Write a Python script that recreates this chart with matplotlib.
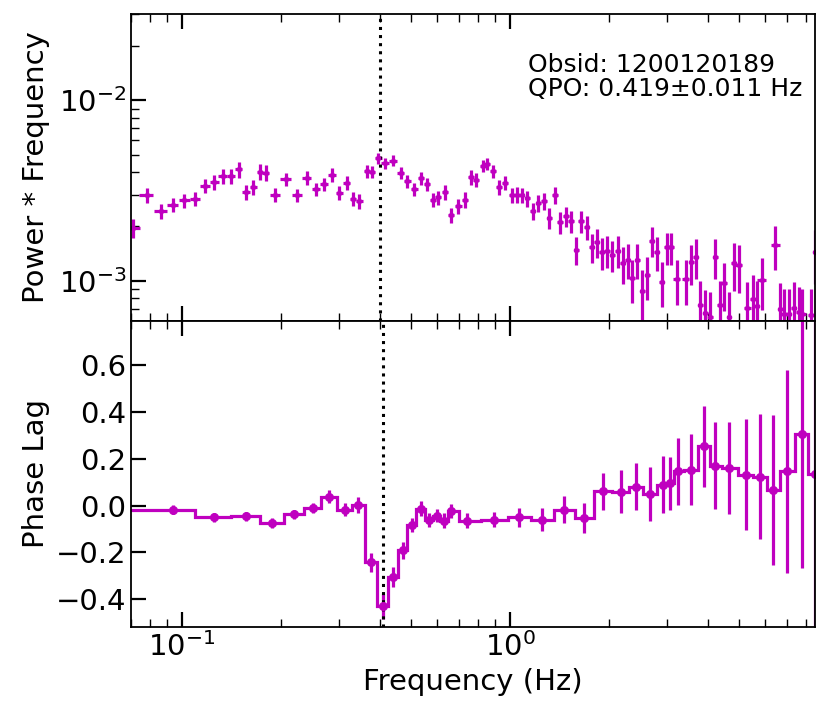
import matplotlib
matplotlib.use("Agg")
import numpy as np
import matplotlib.pyplot as plt

# power spectrum (top panel): frequency, power*frequency, relative error
FREQ = [0.0708, 0.078, 0.0861, 0.0937, 0.1016, 0.1096, 0.1178, 0.1255, 0.133, 0.141,
        0.149, 0.1567, 0.165, 0.173, 0.18, 0.192, 0.2076, 0.224, 0.240, 0.256,
        0.271, 0.286, 0.302, 0.318, 0.333, 0.347, 0.366, 0.380, 0.397, 0.416,
        0.439, 0.464, 0.486, 0.510, 0.535, 0.557, 0.581, 0.604, 0.634, 0.661,
        0.695, 0.729, 0.759, 0.788, 0.824, 0.853, 0.889, 0.928, 0.966, 1.012,
        1.048, 1.086, 1.129, 1.172, 1.22, 1.27, 1.318, 1.371, 1.42, 1.479,
        1.534, 1.589, 1.646, 1.713, 1.774, 1.838, 1.904, 1.976, 2.05, 2.125,
        2.205, 2.28, 2.36, 2.44, 2.53, 2.62, 2.70, 2.80, 2.90, 3.0,
        3.10, 3.22, 3.43, 3.56, 3.68, 3.80, 3.93, 4.07, 4.22, 4.35,
        4.50, 4.65, 4.80, 4.97, 5.29, 5.48, 5.65, 5.85, 6.43, 6.65,
        6.84, 7.06, 7.31, 7.57, 7.78, 8.27, 8.51]
PF = [1.96e-3, 2.98e-3, 2.43e-3, 2.64e-3, 2.79e-3, 2.85e-3, 3.37e-3, 3.52e-3, 3.80e-3, 3.80e-3,
      4.14e-3, 3.10e-3, 3.30e-3, 4.01e-3, 3.96e-3, 3.0e-3, 3.67e-3, 2.98e-3, 3.72e-3, 3.23e-3,
      3.44e-3, 3.88e-3, 3.07e-3, 3.48e-3, 2.84e-3, 2.76e-3, 4.05e-3, 4.01e-3, 4.80e-3, 4.50e-3,
      4.64e-3, 3.96e-3, 3.57e-3, 3.21e-3, 3.69e-3, 3.44e-3, 2.82e-3, 2.90e-3, 3.10e-3, 2.31e-3,
      2.59e-3, 2.82e-3, 3.75e-3, 3.64e-3, 4.35e-3, 4.45e-3, 4.05e-3, 3.30e-3, 3.48e-3, 2.98e-3,
      3.0e-3, 2.98e-3, 2.86e-3, 2.43e-3, 2.70e-3, 2.76e-3, 2.23e-3, 2.98e-3, 2.11e-3, 2.28e-3,
      2.14e-3, 1.49e-3, 2.14e-3, 1.98e-3, 1.53e-3, 1.64e-3, 1.44e-3, 1.47e-3, 1.39e-3, 1.47e-3,
      1.25e-3, 1.31e-3, 1.03e-3, 1.31e-3, 8.73e-4, 1.07e-3, 1.67e-3, 1.44e-3, 9.9e-4, 1.53e-3,
      1.53e-3, 1.02e-3, 1.02e-3, 1.27e-3, 1.36e-3, 7.35e-4, 6.6e-4, 6.3e-4, 1.36e-3, 7.35e-4,
      9.7e-4, 6.3e-4, 1.25e-3, 1.22e-3, 7.1e-4, 7.94e-4, 7.2e-4, 1.01e-3, 1.58e-3, 7.0e-4,
      6.5e-4, 6.5e-4, 7.1e-4, 6.7e-4, 6.5e-4, 6.47e-4, 1.44e-3]
PF_REL = [0.12, 0.09, 0.09, 0.09, 0.09, 0.09, 0.09, 0.09, 0.09, 0.10,
          0.10, 0.10, 0.10, 0.10, 0.10, 0.085, 0.085, 0.085, 0.085, 0.085,
          0.085, 0.085, 0.09, 0.09, 0.09, 0.09, 0.08, 0.08, 0.07, 0.07,
          0.07, 0.08, 0.08, 0.08, 0.08, 0.08, 0.09, 0.09, 0.09, 0.10,
          0.10, 0.10, 0.09, 0.09, 0.08, 0.08, 0.08, 0.09, 0.09, 0.10,
          0.10, 0.10, 0.10, 0.11, 0.11, 0.11, 0.13, 0.11, 0.14, 0.13,
          0.14, 0.18, 0.14, 0.15, 0.18, 0.18, 0.20, 0.20, 0.20, 0.20,
          0.23, 0.22, 0.27, 0.22, 0.32, 0.27, 0.19, 0.21, 0.28, 0.20,
          0.20, 0.28, 0.28, 0.25, 0.25, 0.35, 0.35, 0.38, 0.25, 0.35,
          0.30, 0.38, 0.30, 0.30, 0.38, 0.35, 0.38, 0.32, 0.27, 0.38,
          0.38, 0.38, 0.38, 0.38, 0.38, 0.40, 0.33]

# phase lags (bottom panel)
LAG_F = [0.094, 0.1256, 0.1567, 0.1886, 0.2195, 0.2514, 0.281, 0.314, 0.345, 0.376,
         0.409, 0.439, 0.471, 0.5016, 0.534, 0.5675, 0.5975, 0.629, 0.661, 0.738,
         0.896, 1.068, 1.255, 1.464, 1.685, 1.917, 2.175, 2.416, 2.67, 2.92,
         3.075, 3.24, 3.556, 3.905, 4.217, 4.66, 5.23, 5.78, 6.32, 6.98,
         7.75, 8.47]
LAG = [-0.018, -0.050, -0.046, -0.074, -0.038, -0.010, 0.038, -0.018, 0.004, -0.242,
       -0.431, -0.306, -0.192, -0.085, -0.014, -0.061, -0.043, -0.064, -0.024, -0.064,
       -0.061, -0.050, -0.060, -0.018, -0.053, 0.061, 0.060, 0.081, 0.050, 0.090,
       0.095, 0.146, 0.154, 0.253, 0.171, 0.161, 0.132, 0.124, 0.067, 0.146,
       0.308, 0.135]
LAG_ERR = [0.019, 0.019, 0.020, 0.020, 0.020, 0.020, 0.027, 0.027, 0.034, 0.040,
           0.053, 0.043, 0.038, 0.030, 0.032, 0.030, 0.028, 0.031, 0.030, 0.031,
           0.032, 0.041, 0.049, 0.057, 0.064, 0.080, 0.091, 0.099, 0.116, 0.123,
           0.112, 0.144, 0.150, 0.174, 0.185, 0.197, 0.238, 0.267, 0.320, 0.435,
           0.577, 0.900]
LAG_EDGE_LO, LAG_EDGE_HI = 0.06, 9.5

QPO_TOP, QPO_BOT = 0.40, 0.41
OBSID = "1200120189"
QPO_TXT = "0.419\u00b10.011 Hz"

C = "#bf00bf"

plt.rcParams.update({"font.size": 21, "axes.linewidth": 1.3})

fig, (ax1, ax2) = plt.subplots(2, 1, sharex=True, figsize=(8.3, 7.16), dpi=100)
fig.subplots_adjust(left=0.158, right=0.982, top=0.980, bottom=0.124, hspace=0)

f = np.array(FREQ)
pf = np.array(PF)
# half-widths of frequency bins from neighbour spacing
d = np.diff(f)
xerr = np.concatenate([[d[0]], (d[:-1] + d[1:]) / 2, [d[-1]]]) / 2
ax1.errorbar(f, pf, xerr=xerr, yerr=pf * np.array(PF_REL), fmt="o", ms=3,
             color=C, elinewidth=2.3, capsize=0)
ax1.axvline(QPO_TOP, color="k", ls=":", lw=2.2)
ax1.set_xscale("log"); ax1.set_yscale("log")
ax1.set_ylim(6e-4, 3e-2)
ax1.set_ylabel("Power * Frequency")
ax1.text(0.58, 0.875, f"Obsid: {OBSID}\nQPO: {QPO_TXT}", transform=ax1.transAxes,
         fontsize=18, ha="left", va="top", linespacing=1.0)

lf = np.array(LAG_F)
edges = np.concatenate([[LAG_EDGE_LO], (lf[:-1] + lf[1:]) / 2, [LAG_EDGE_HI]])
ax2.stairs(LAG, edges, color=C, lw=2.3, baseline=None)
ax2.errorbar(lf, LAG, yerr=LAG_ERR, fmt="o", ms=5.5, color=C, elinewidth=2.3, capsize=0)
ax2.axvline(QPO_BOT, color="k", ls=":", lw=2.2)
ax2.set_ylim(-0.52, 0.79)
ax2.set_yticks([-0.4, -0.2, 0.0, 0.2, 0.4, 0.6])
ax2.set_ylabel("Phase Lag")
ax2.set_xlabel("Frequency (Hz)")
ax2.set_xlim(0.07, 8.5)

for ax in (ax1, ax2):
    ax.tick_params(which="both", direction="in", top=True, right=False)
    ax.tick_params(which="major", length=11, width=1.6)
    ax.tick_params(which="minor", length=6, width=1.0)
fig.align_ylabels([ax1, ax2])

fig.savefig("out.png", dpi=100)
